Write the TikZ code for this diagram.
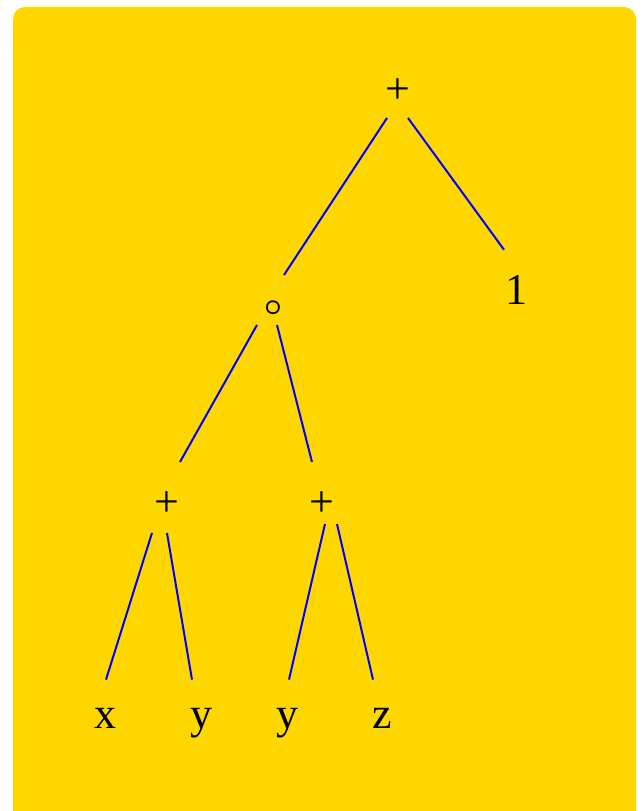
\documentclass[tikz,border=0pt]{standalone}
\usepackage{graphicx}
\usepackage{bm}
\usepackage{fontspec}
\setmainfont{Liberation Serif}
\begin{document}
\begin{tikzpicture}[x=1pt,y=1pt,
  lbl/.style={inner sep=0pt,font=\fontsize{44}{48}\selectfont},
  edge/.style={draw=blue,line width=2pt}]
\useasboundingbox (0,0) rectangle (641,811);
\fill[fill={rgb,255:red,255;green,215;blue,0},rounded corners=12pt] (13,-30) rectangle (636,804);
% nodes
\node[lbl] (r)  at (397.5,720) {+};
\node[inner sep=0pt,font=\fontsize{24.88}{26}\selectfont] (c) at (273.5,503) {\scalebox{1.25}{$\bm{\circ}$}};
\node[lbl,anchor=base] (one) at (516,506) {1};
\node[lbl] (p1) at (167,307) {+};
\node[lbl] (p2) at (322,307) {+};
\node[lbl,anchor=base] (x)  at (105,82) {x};
\node[lbl,anchor=base] (y1) at (201,82) {y};
\node[lbl,anchor=base] (y2) at (287,82) {y};
\node[lbl,anchor=base] (z)  at (382,82) {z};
% edges
\draw[edge] ([shift={(-10.5,-27)}]r.center) -- ([shift={(10.5,33)}]c.center);
\draw[edge] ([shift={(10.5,-27)}]r.center) -- ([shift={(-12,26)}]one.north);
\draw[edge] ([shift={(-16.5,-17)}]c.center) -- ([shift={(13,42)}]p1.center);
\draw[edge] ([shift={(3.5,-17)}]c.center) -- ([shift={(-10,42)}]p2.center);
\draw[edge] ([shift={(-15,-29)}]p1.center) -- ([shift={(1,29)}]x.north);
\draw[edge] ([shift={(0,-29)}]p1.center) -- ([shift={(-9,29)}]y1.north);
\draw[edge] ([shift={(3,-20)}]p2.center) -- ([shift={(2,29)}]y2.north);
\draw[edge] ([shift={(15,-20)}]p2.center) -- ([shift={(-9,29)}]z.north);
\end{tikzpicture}
\end{document}
